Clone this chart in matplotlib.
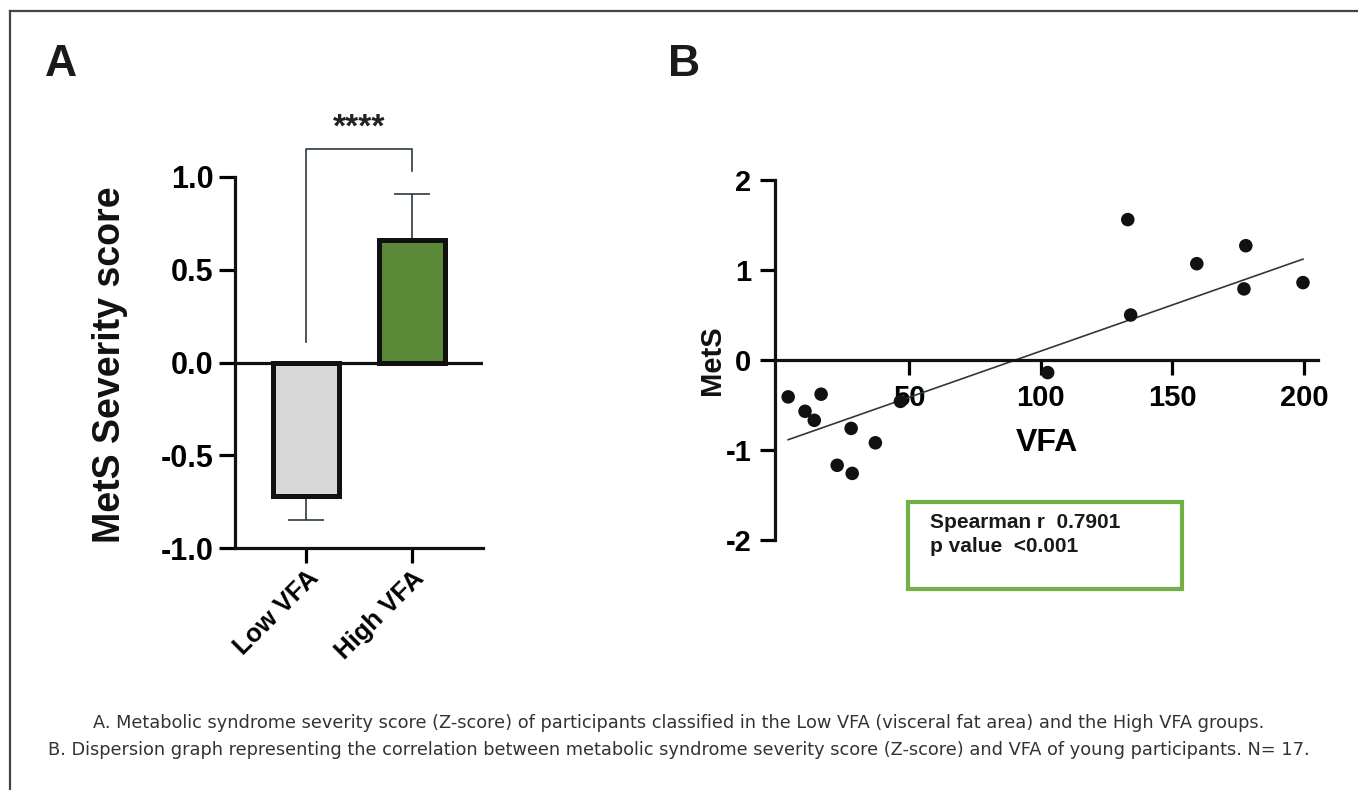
import numpy as np
import matplotlib

matplotlib.use("Agg")
import matplotlib.pyplot as plt
from matplotlib.lines import Line2D
from matplotlib.patches import Rectangle

# panel A: MetS severity score by VFA group (mean, one-sided SEM)
groups = ["Low VFA", "High VFA"]
group_means = [-0.72, 0.66]
group_err_low = [0.13, 0.0]
group_err_high = [0.0, 0.25]
bar_colors = ["#D8D8D8", "#5A8A38"]
signif_text = "****"
bracket_left_y = 0.11
bracket_top_y = 1.15
bracket_right_y = 1.03

# panel B: MetS vs VFA scatter
vfa = [4.2, 10.6, 14.1, 16.7, 22.8, 28.1, 28.5, 37.3, 46.8,
       102.7, 133.1, 134.2, 159.3, 177.2, 177.9, 199.6]
mets = [-0.41, -0.57, -0.67, -0.38, -1.17, -0.76, -1.26, -0.92, -0.46,
        -0.14, 1.56, 0.50, 1.07, 0.79, 1.27, 0.86]
fit_slope = 0.01027
fit_intercept = -0.929
stats_lines = ["Spearman r  0.7901", "p value  <0.001"]

caption = [
    "A. Metabolic syndrome severity score (Z-score) of participants classified in the Low VFA (visceral fat area) and the High VFA groups.",
    "B. Dispersion graph representing the correlation between metabolic syndrome severity score (Z-score) and VFA of young participants. N= 17.",
]

W, H = 1358, 790
BOLD = "Liberation Sans"
INK = "#111111"
THIN = "#2b3a40"

plt.rcParams["font.family"] = [BOLD, "DejaVu Sans"]
plt.rcParams["axes.unicode_minus"] = False

fig = plt.figure(figsize=(W / 100, H / 100), dpi=100)
fig.patch.set_facecolor("white")


def fx(px):
    return px / W


def fy(py):
    return 1 - py / H


# outer frame (top and left only)
fig.add_artist(Line2D([fx(10), 1.0], [fy(10.5), fy(10.5)], color="#444444", lw=1.6))
fig.add_artist(Line2D([fx(10), fx(10)], [fy(10.5), 0.0], color="#444444", lw=1.6))

# ---------------- panel A ----------------
axA = fig.add_axes([fx(235), fy(548), fx(483) - fx(235), fy(177) - fy(548)])
x = np.arange(len(groups))
axA.errorbar(x, group_means, yerr=[group_err_low, group_err_high], fmt="none",
             ecolor=THIN, elinewidth=1.2, capsize=13, capthick=1.2, zorder=1)
axA.bar(x, group_means, width=0.63, color=bar_colors, edgecolor=INK,
        linewidth=3.6, zorder=2)
axA.axhline(0, color=INK, lw=2.3, zorder=3)
axA.set_xlim(-0.67, 1.67)
axA.set_ylim(-1.0, 1.0)
for s in ["top", "right"]:
    axA.spines[s].set_visible(False)
for s in ["left", "bottom"]:
    axA.spines[s].set_linewidth(2.3)
    axA.spines[s].set_color(INK)
axA.set_yticks([-1.0, -0.5, 0.0, 0.5, 1.0])
axA.set_yticklabels(["-1.0", "-0.5", "0.0", "0.5", "1.0"])
axA.set_xticks(x)
axA.set_xticklabels(groups, rotation=45, ha="right", va="top",
                    rotation_mode="anchor")
axA.tick_params(axis="y", length=11.5, width=2.3, pad=4, labelsize=22)
axA.tick_params(axis="x", length=11, width=2.3, pad=2, labelsize=18.5)
for lab in axA.get_xticklabels() + axA.get_yticklabels():
    lab.set_fontweight("bold")

# significance bracket
axA.plot([0, 0, 1, 1], [bracket_left_y, bracket_top_y, bracket_top_y, bracket_right_y],
         color=THIN, lw=1.2, clip_on=False, zorder=1)
axA.text(0.5, bracket_top_y + 0.03, signif_text, ha="center", va="bottom",
         fontsize=24, fontweight="bold", color="#222222", clip_on=False)

fig.text(fx(110), fy(365), "MetS Severity score", rotation=90, ha="center",
         va="center", fontsize=27, fontweight="bold", color=INK)
fig.text(fx(61), fy(65), "A", ha="center", va="center", fontsize=32,
         fontweight="bold", color="#1a1a1a")

# ---------------- panel B ----------------
axB = fig.add_axes([fx(775), fy(540), fx(1318) - fx(775), fy(180) - fy(540)])
axB.scatter(vfa, mets, s=95, color=INK, edgecolors="none", zorder=3)
xs = np.array([min(vfa), max(vfa)])
axB.plot(xs, fit_slope * xs + fit_intercept, color=THIN, lw=1.2, zorder=2)
axB.set_xlim(-0.8, 205.3)
axB.set_ylim(-2, 2)
for s in ["top", "right"]:
    axB.spines[s].set_visible(False)
axB.spines["bottom"].set_position(("data", 0))
for s in ["left", "bottom"]:
    axB.spines[s].set_linewidth(2.3)
    axB.spines[s].set_color(INK)
axB.set_xticks([50, 100, 150, 200])
axB.set_yticks([-2, -1, 0, 1, 2])
axB.tick_params(axis="both", length=11, width=2.3, labelsize=21, pad=6)
for lab in axB.get_xticklabels() + axB.get_yticklabels():
    lab.set_fontweight("bold")
axB.set_xlabel("VFA", fontsize=23, fontweight="bold", labelpad=12)

fig.text(fx(712), fy(360), "MetS", rotation=90, ha="center", va="center",
         fontsize=21, fontweight="bold", color=INK)
fig.text(fx(684), fy(65), "B", ha="center", va="center", fontsize=32,
         fontweight="bold", color="#1a1a1a")

# stats box
fig.add_artist(Rectangle((fx(908), fy(589)), fx(1182) - fx(908), fy(502) - fy(589),
                         transform=fig.transFigure, facecolor="white",
                         edgecolor="#72B046", lw=3.0))
fig.text(fx(930), fy(523), stats_lines[0], ha="left", va="center",
         fontsize=15, fontweight="bold", color="#1a1a1a")
fig.text(fx(930), fy(546), stats_lines[1], ha="left", va="center",
         fontsize=15, fontweight="bold", color="#1a1a1a")

# caption
fig.text(0.5, fy(723), caption[0], ha="center", va="center", fontsize=12.8,
         family="DejaVu Sans", color="#333333")
fig.text(0.5, fy(750), caption[1], ha="center", va="center", fontsize=12.8,
         family="DejaVu Sans", color="#333333")

fig.savefig("out.png", dpi=100, facecolor="white")
